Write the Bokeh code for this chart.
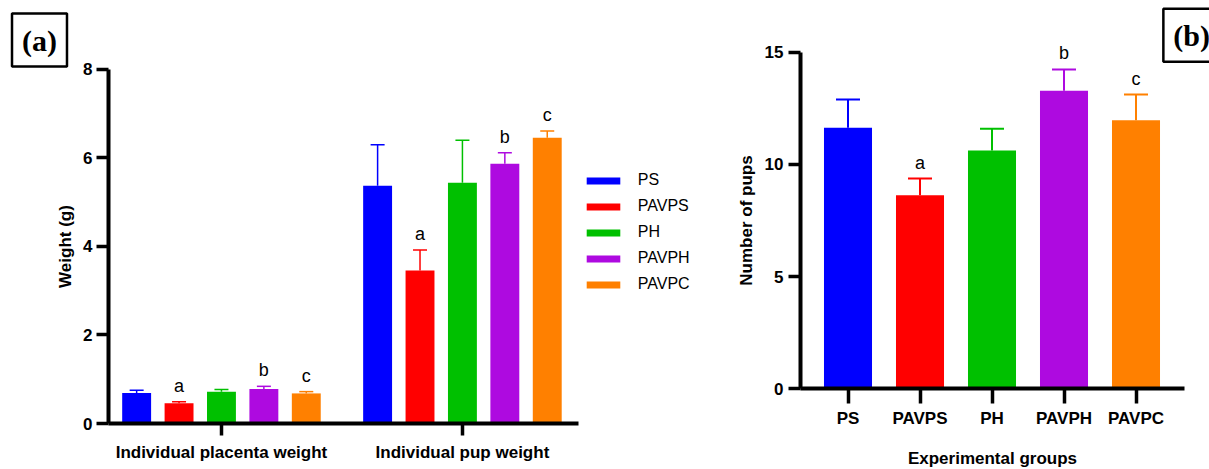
from bokeh.plotting import figure
from bokeh.models import (ColumnDataSource, FixedTicker, Whisker, TeeHead, Label, Range1d)
from bokeh.layouts import row
from bokeh.core.properties import value, field
from bokeh.embed import file_html
from bokeh.resources import INLINE

# ---------------- data ----------------
series = ["PS", "PAVPS", "PH", "PAVPH", "PAVPC"]
colors = ["#0000FF", "#FF0000", "#00C000", "#AE0AE0", "#FF8000"]
measures = ["Individual placenta weight", "Individual pup weight"]
placenta_mean = [0.69, 0.46, 0.72, 0.78, 0.68]
placenta_sd = [0.06, 0.03, 0.05, 0.06, 0.04]
pup_mean = [5.37, 3.46, 5.44, 5.87, 6.46]
pup_sd = [0.93, 0.46, 0.96, 0.25, 0.15]
placenta_letters = ["", "a", "", "b", "c"]
pup_letters = ["", "a", "", "b", "c"]
weight_ticks = [0, 2, 4, 6, 8]

pups_mean = [11.63, 8.63, 10.62, 13.28, 11.97]
pups_sd = [1.26, 0.74, 0.97, 0.95, 1.14]
pups_letters = ["", "a", "", "b", "c"]
pups_ticks = [0, 5, 10, 15]

FONT = "Liberation Sans"
SERIF = "Liberation Serif"
H = 469


def style_axis(ax, label_standoff=4, axis_label_standoff=10, tick_out=12):
    ax.axis_line_width = 4
    ax.axis_line_color = "black"
    ax.major_tick_line_width = 3.5
    ax.major_tick_line_color = "black"
    ax.major_tick_out = tick_out
    ax.major_tick_in = 0
    ax.minor_tick_out = 0
    ax.minor_tick_in = 0
    ax.major_label_text_font = FONT
    ax.major_label_text_font_style = "bold"
    ax.major_label_text_font_size = "17px"
    ax.major_label_text_color = "black"
    ax.major_label_standoff = label_standoff
    ax.axis_label_text_font = FONT
    ax.axis_label_text_font_style = "bold"
    ax.axis_label_text_font_size = "17px"
    ax.axis_label_text_color = "black"
    ax.axis_label_standoff = axis_label_standoff


def bare_figure(width, xr, yr):
    f = figure(width=width, height=H, x_range=Range1d(*xr), y_range=Range1d(*yr),
               title=None, output_backend="svg", toolbar_location=None,
               min_border_left=0, min_border_right=0, min_border_top=0, min_border_bottom=0)
    f.outline_line_color = None
    f.grid.visible = False
    return f


# ---------------- panel (a) ----------------
# frame covers the whole canvas; axes are pinned with fixed_location + bounds
a_x0, a_x1 = -0.469, 1.481      # extent of the drawn x axis
pa = bare_figure(700, (-0.917, 1.988), (-1.0395, 9.559))

step = 0.176
bar_w = 0.12
means_by_measure = [placenta_mean, pup_mean]
sds_by_measure = [placenta_sd, pup_sd]
letters_by_measure = [placenta_letters, pup_letters]

wx, wbase, wup, wcol, wlet = [], [], [], [], []
for s, name in enumerate(series):
    off = (s - (len(series) - 1) / 2) * step
    xs = [g + off for g in range(len(measures))]
    tops = [means_by_measure[g][s] for g in range(len(measures))]
    pa.vbar(x=xs, top=tops, width=bar_w, fill_color=colors[s], line_color=None,
            legend_label=name)
    for g in range(len(measures)):
        wx.append(xs[g])
        wbase.append(means_by_measure[g][s])
        wup.append(means_by_measure[g][s] + sds_by_measure[g][s])
        wcol.append(colors[s])
        wlet.append(letters_by_measure[g][s])

src_a = ColumnDataSource(dict(x=wx, mean=wbase, upper=wup, color=wcol, letter=wlet))
wa = Whisker(source=src_a, base="x", upper="upper", lower="mean", dimension="height",
             line_color=field("color"), line_width=1.5,
             upper_head=TeeHead(size=14, line_color=field("color"), line_width=1.5),
             lower_head=None)
pa.add_layout(wa)
pa.text(x="x", y="upper", text="letter", source=src_a, text_align="center",
        text_baseline="alphabetic", y_offset=-16, text_font=value(FONT),
        text_font_size="18px", text_color="black")

pa.yaxis.ticker = FixedTicker(ticks=weight_ticks)
pa.yaxis.bounds = (weight_ticks[0], weight_ticks[-1])
pa.yaxis.fixed_location = a_x0
pa.xaxis.ticker = FixedTicker(ticks=list(range(len(measures))))
pa.xaxis.major_label_overrides = {i: m for i, m in enumerate(measures)}
pa.xaxis.bounds = (a_x0, a_x1)
pa.xaxis.fixed_location = 0
pa.yaxis.axis_label = "Weight (g)"
style_axis(pa.yaxis[0], 4, 5)
style_axis(pa.xaxis[0], 7, 10)

leg = pa.legend[0]
leg.location = (581.75, 175)
leg.glyph_width = 42
leg.glyph_height = 9
leg.label_standoff = 14
leg.spacing = 6
leg.label_height = 20
leg.padding = 0
leg.margin = 0
leg.border_line_color = None
leg.background_fill_alpha = 0
leg.label_text_font = FONT
leg.label_text_font_size = "16px"
leg.label_text_color = "black"

pa.add_layout(Label(x=39, y=H - 39.5, x_units="screen", y_units="screen", text="(a)",
                    text_font=SERIF, text_font_style="bold", text_font_size="30px",
                    text_align="center", text_baseline="middle", text_color="black",
                    border_line_color="black", border_line_width=2.5, padding=10))

# ---------------- panel (b) ----------------
b_x0, b_x1 = -0.66, 4.674
pb = bare_figure(509, (-2.0486, 5.0208), (-3.596, 17.304))

xb = list(range(len(series)))
src_b = ColumnDataSource(dict(x=xb, mean=pups_mean,
                              upper=[m + e for m, e in zip(pups_mean, pups_sd)],
                              color=colors, letter=pups_letters))
pb.vbar(x="x", top="mean", width=0.667, fill_color="color", line_color=None, source=src_b)
wb = Whisker(source=src_b, base="x", upper="upper", lower="mean", dimension="height",
             line_color=field("color"), line_width=2,
             upper_head=TeeHead(size=24, line_color=field("color"), line_width=2),
             lower_head=None)
pb.add_layout(wb)
pb.text(x="x", y="upper", text="letter", source=src_b, text_align="center",
        text_baseline="alphabetic", y_offset=-16, text_font=value(FONT),
        text_font_size="18px", text_color="black")

pb.yaxis.ticker = FixedTicker(ticks=pups_ticks)
pb.yaxis.bounds = (pups_ticks[0], pups_ticks[-1])
pb.yaxis.fixed_location = b_x0
pb.xaxis.ticker = FixedTicker(ticks=xb)
pb.xaxis.major_label_overrides = {i: s for i, s in enumerate(series)}
pb.xaxis.bounds = (b_x0, b_x1)
pb.xaxis.fixed_location = 0
pb.yaxis.axis_label = "Number of pups"
pb.xaxis.axis_label = "Experimental groups"
style_axis(pb.yaxis[0], 5, 6)
style_axis(pb.xaxis[0], 5, 18, tick_out=15)

pb.add_layout(Label(x=491.2, y=H - 34.8, x_units="screen", y_units="screen", text="(b)",
                    text_font=SERIF, text_font_style="bold", text_font_size="30px",
                    text_align="center", text_baseline="middle", text_color="black",
                    border_line_color="black", border_line_width=2.5, padding=10))

layout = row(pa, pb)
open("out.html", "w").write(file_html(layout, INLINE))
